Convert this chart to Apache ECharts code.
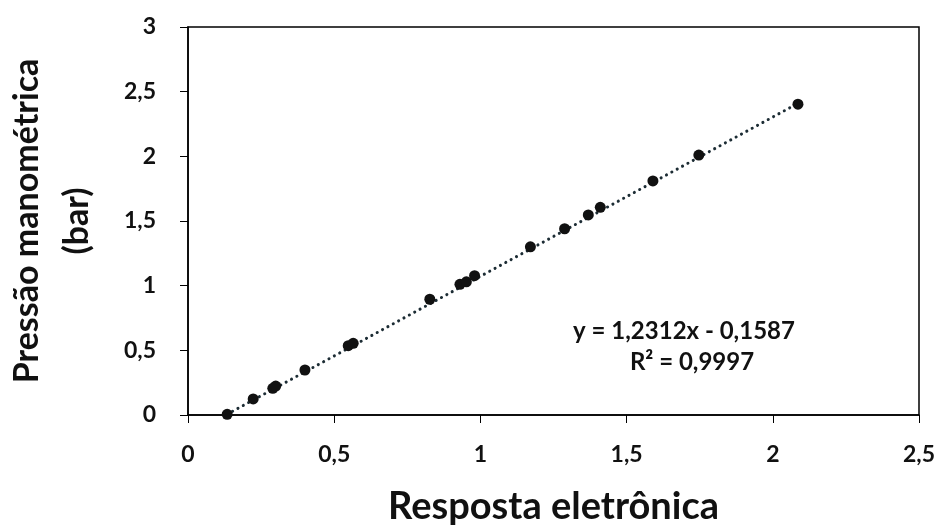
<!DOCTYPE html>
<html><head><meta charset="utf-8">
<script src="https://cdn.jsdelivr.net/npm/echarts@6/dist/echarts.min.js"></script>
<style>html,body{margin:0;padding:0;background:#fff}#c{width:936px;height:525px}</style>
</head><body><div id="c"></div>
<script>
// Data
var respostaX = [0.134, 0.223, 0.29, 0.30, 0.40, 0.548, 0.565, 0.827, 0.93, 0.952, 0.98, 1.171, 1.288, 1.369, 1.41, 1.59, 1.747, 2.086];
var pressaoY  = [0.005, 0.124, 0.206, 0.224, 0.348, 0.536, 0.554, 0.895, 1.01, 1.03, 1.077, 1.30, 1.44, 1.547, 1.606, 1.81, 2.01, 2.403];
var trendX = [0.134, 2.086];
var trendY = [0.006, 2.410];
var xTicks = ['0', '0,5', '1', '1,5', '2', '2,5'];
var yTicks = ['0', '0,5', '1', '1,5', '2', '2,5', '3'];
var equationText = 'y = 1,2312x - 0,1587';
var r2Text = 'R² = 0,9997';

var pts = respostaX.map(function (x, i) { return [x, pressaoY[i]]; });
var trend = trendX.map(function (x, i) { return [x, trendY[i]]; });
var F = 'Lato, "Open Sans", sans-serif';

var chart = echarts.init(document.getElementById('c'));
chart.setOption({
  animation: false,
  grid: { left: 188, right: 17, top: 27, bottom: 110, show: true, borderColor: '#000', borderWidth: 1.5, backgroundColor: '#fff',
          containLabel: false, outerBoundsMode: 'none' },
  xAxis: {
    type: 'value', min: 0, max: 2.5, interval: 0.5,
    name: 'Resposta eletrônica', nameLocation: 'middle', nameGap: 73,
    nameTextStyle: { fontFamily: F, fontWeight: 'bold', fontSize: 38, color: '#111' },
    axisLine: { show: true, lineStyle: { color: '#000', width: 1.5 } },
    axisTick: { show: true, length: 8, lineStyle: { color: '#000', width: 1 } },
    splitLine: { show: false },
    axisLabel: { margin: 28, fontFamily: F, fontWeight: 'bold', fontSize: 23, color: '#111',
      formatter: function (v) { return xTicks[Math.round(v / 0.5)]; } }
  },
  yAxis: {
    type: 'value', min: 0, max: 3, interval: 0.5,
    name: 'Pressão manométrica\n(bar)', nameLocation: 'middle', nameGap: 86, nameRotate: 90,
    nameTextStyle: { fontFamily: F, fontWeight: 'bold', fontSize: 34, color: '#111', lineHeight: 50 },
    axisLine: { show: true, lineStyle: { color: '#000', width: 1.5 } },
    axisTick: { show: true, length: 8, lineStyle: { color: '#000', width: 1 } },
    splitLine: { show: false },
    axisLabel: { margin: 32, fontFamily: F, fontWeight: 'bold', fontSize: 23, color: '#111',
      formatter: function (v) { return yTicks[Math.round(v / 0.5)]; } }
  },
  series: [
    { type: 'line', data: trend, symbol: 'none', silent: true, z: 2,
      lineStyle: { color: '#1c2c34', width: 3, type: [0.1, 6], cap: 'round' } },
    { type: 'scatter', data: pts, symbol: 'circle', symbolSize: 11, z: 3,
      itemStyle: { color: '#111', opacity: 1 } }
  ],
  graphic: [
    { type: 'text', x: 684, y: 331, style: { text: equationText, textAlign: 'center', textVerticalAlign: 'middle', font: 'bold 24px ' + F, fill: '#111' } },
    { type: 'text', x: 692, y: 362, style: { text: r2Text, textAlign: 'center', textVerticalAlign: 'middle', font: 'bold 24px ' + F, fill: '#111' } }
  ]
});
</script></body></html>
